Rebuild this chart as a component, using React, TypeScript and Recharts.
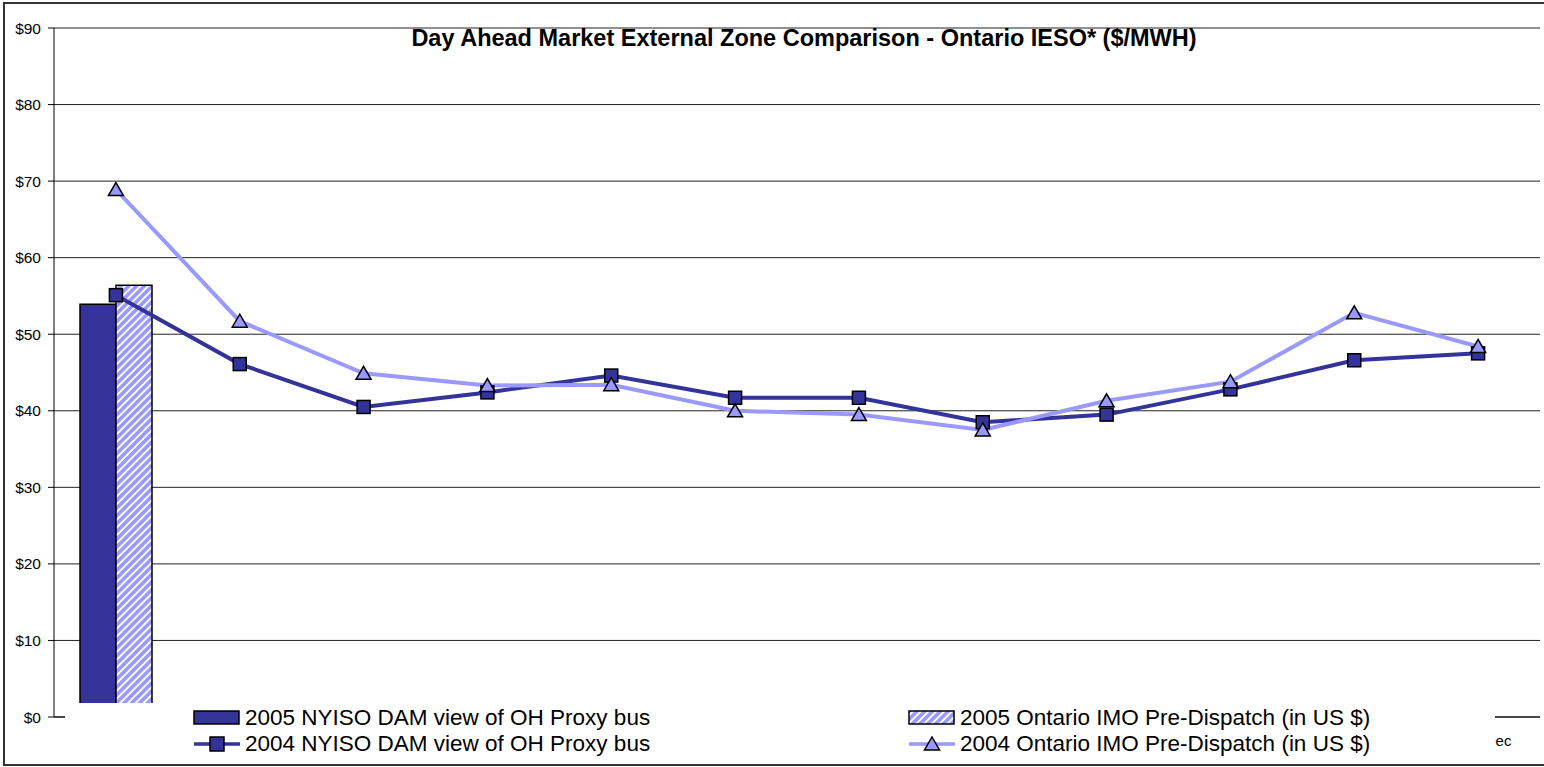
import React from 'react'
import { ComposedChart, Bar, Line, XAxis, YAxis, CartesianGrid, Legend } from 'recharts'

const months = ['Jan', 'Feb', 'Mar', 'Apr', 'May', 'Jun', 'Jul', 'Aug', 'Sep', 'Oct', 'Nov', 'Dec']
// 2005 only has January so far
const nyiso2005 = [53.9, null, null, null, null, null, null, null, null, null, null, null]
const ontario2005 = [56.4, null, null, null, null, null, null, null, null, null, null, null]
const nyiso2004 = [55.1, 46.1, 40.5, 42.4, 44.6, 41.7, 41.7, 38.5, 39.5, 42.8, 46.6, 47.5]
const ontario2004 = [68.9, 51.7, 44.9, 43.3, 43.4, 40.0, 39.5, 37.5, 41.3, 43.8, 52.8, 48.4]
const yTicks = [0, 10, 20, 30, 40, 50, 60, 70, 80, 90]

const names: Record<string, string> = {
  nyiso2005: '2005 NYISO DAM view of OH Proxy bus',
  ontario2005: '2005 Ontario IMO Pre-Dispatch (in US $)',
  nyiso2004: '2004 NYISO DAM view of OH Proxy bus',
  ontario2004: '2004 Ontario IMO Pre-Dispatch (in US $)',
}

const data = months.map((m, i) => ({
  month: m,
  nyiso2005: nyiso2005[i],
  ontario2005: ontario2005[i],
  nyiso2004: nyiso2004[i],
  ontario2004: ontario2004[i],
}))

const DARK = '#333399'
const LIGHT = '#9999ff'
const FONT = 'Arial, "Liberation Sans", sans-serif'

function SquareDot(p: any) {
  const { cx, cy, index } = p
  if (cx == null || cy == null) return <g key={index} />
  return <rect key={index} x={cx - 6.5} y={cy - 6.5} width={13} height={13} fill={DARK} stroke="#000" strokeWidth={1.5} />
}

function TriangleDot(p: any) {
  const { cx, cy, index } = p
  if (cx == null || cy == null) return <g key={index} />
  return (
    <polygon
      key={index}
      points={`${cx},${cy - 7} ${cx + 7.5},${cy + 6} ${cx - 7.5},${cy + 6}`}
      fill={LIGHT}
      stroke="#000"
      strokeWidth={1.5}
    />
  )
}

// month labels sit under the legend box; only the tail of the last one shows
function MonthTick(p: any) {
  const { x, y, payload, index } = p
  if (index !== months.length - 1) return <g />
  return (
    <text x={x + 20} y={y + 10} textAnchor="middle" dominantBaseline="hanging" fontSize={15} fontFamily={FONT} fill="#000">
      {payload.value}
    </text>
  )
}

function DollarTick(p: any) {
  const { x, y, payload } = p
  return (
    <text x={x} y={y} textAnchor="end" dominantBaseline="central" fontSize={15.5} fontFamily={FONT} fill="#000">
      {`$${payload.value}`}
    </text>
  )
}

function legendIcon(key: string) {
  if (key === 'nyiso2005' || key === 'ontario2005') {
    return (
      <svg width={48} height={16}>
        <rect x={1} y={1} width={45} height={13} fill={key === 'nyiso2005' ? DARK : 'url(#hatch)'} stroke="#000" strokeWidth={1.5} />
      </svg>
    )
  }
  const clr = key === 'nyiso2004' ? DARK : LIGHT
  return (
    <svg width={48} height={16}>
      <line x1={1} y1={8} x2={47} y2={8} stroke={clr} strokeWidth={3.5} />
      {key === 'nyiso2004'
        ? <rect x={17} y={1} width={14} height={14} fill={DARK} stroke="#000" strokeWidth={1.5} />
        : <polygon points="24,1 31.5,14 16.5,14" fill={LIGHT} stroke="#000" strokeWidth={1.5} />}
    </svg>
  )
}

// left / centre of each legend entry inside the white legend box
const legendPos: Record<string, [number, number]> = {
  nyiso2005: [128, 15],
  ontario2005: [843, 15],
  nyiso2004: [128, 40.5],
  ontario2004: [843, 40.5],
}

function renderLegend(props: any) {
  const payload = props.payload || []
  return (
    <div style={{ position: 'relative', width: 1430, height: 60, background: '#fff', fontFamily: FONT }}>
      {payload.map((e: any) => {
        const key = String(e.dataKey)
        const [lx, cy] = legendPos[key] || [0, 0]
        return (
          <div key={key} style={{ position: 'absolute', left: lx, top: cy - 8, height: 16, whiteSpace: 'nowrap' }}>
            <div style={{ position: 'absolute', left: 0, top: 0 }}>{legendIcon(key)}</div>
            <span style={{ position: 'absolute', left: 52, top: -3, fontSize: 22.5, lineHeight: '22.5px', color: '#000' }}>
              {names[key]}
            </span>
          </div>
        )
      })}
    </div>
  )
}

export default function App() {
  return (
    <div style={{ position: 'absolute', left: 0, top: 0, width: 1544, height: 767, overflow: 'hidden', background: '#fff' }}>
      <div style={{
        position: 'absolute', left: 3, top: 2, width: 1600, height: 764,
        border: '2px solid #333', boxSizing: 'border-box',
      }} />
      <div style={{
        position: 'absolute', left: 0, top: 26.5, width: 1608, textAlign: 'center',
        fontFamily: FONT, fontWeight: 'bold', fontSize: 23.5, lineHeight: 1, whiteSpace: 'nowrap', color: '#000', zIndex: 2,
      }}>
        Day Ahead Market External Zone Comparison - Ontario IESO* ($/MWH)
      </div>
      <div style={{ position: 'absolute', left: 0, top: 0 }}>
        <ComposedChart
          width={1544}
          height={767}
          data={data}
          margin={{ top: 28, right: 4, left: 4, bottom: 20 }}
          barCategoryGap={26}
          barGap={0}
        >
          <defs>
            <pattern id="hatch" width="5.5" height="5.5" patternUnits="userSpaceOnUse" patternTransform="rotate(45)">
              <rect width="5.5" height="5.5" fill="#fff" />
              <rect width="3.6" height="5.5" fill={LIGHT} />
            </pattern>
          </defs>
          <CartesianGrid vertical={false} stroke="#222" strokeWidth={1} />
          <XAxis
            dataKey="month"
            interval={0}
            height={30}
            tickLine={false}
            axisLine={{ stroke: '#000' }}
            tick={<MonthTick />}
          />
          <YAxis
            domain={[0, 90]}
            ticks={yTicks}
            interval={0}
            width={50}
            tickSize={6}
            tickMargin={7}
            tick={<DollarTick />}
            axisLine={{ stroke: '#000' }}
            tickLine={{ stroke: '#000' }}
          />
          <YAxis yAxisId="right" orientation="right" width={0} domain={[0, 90]} tick={false} tickLine={false} axisLine={{ stroke: '#333' }} />
          <Bar dataKey="nyiso2005" name={names.nyiso2005} fill={DARK} stroke="#000" strokeWidth={1.5} isAnimationActive={false} />
          <Bar dataKey="ontario2005" name={names.ontario2005} fill="url(#hatch)" stroke="#000" strokeWidth={1.5} isAnimationActive={false} />
          <Line
            dataKey="nyiso2004"
            name={names.nyiso2004}
            stroke={DARK}
            strokeWidth={4}
            dot={SquareDot}
            activeDot={false}
            isAnimationActive={false}
          />
          <Line
            dataKey="ontario2004"
            name={names.ontario2004}
            stroke={LIGHT}
            strokeWidth={4}
            dot={TriangleDot}
            activeDot={false}
            isAnimationActive={false}
          />
          <Legend
            layout="horizontal"
            verticalAlign="middle"
            align="center"
            content={renderLegend}
            wrapperStyle={{ left: 65, top: 703, width: 1430, height: 60 }}
          />
        </ComposedChart>
      </div>
    </div>
  )
}
